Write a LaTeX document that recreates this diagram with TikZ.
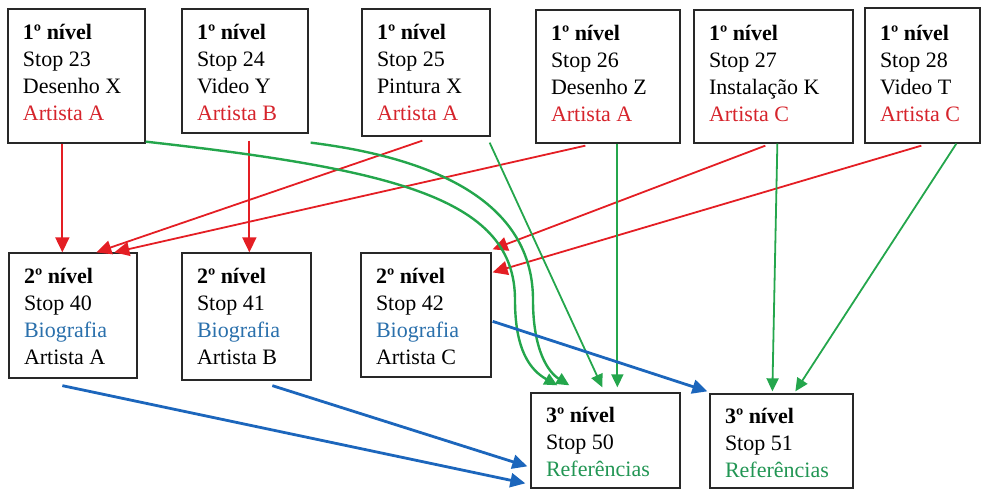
\documentclass[tikz,border=0pt]{standalone}
\usepackage{fontspec}
\setmainfont{Liberation Serif}
\usetikzlibrary{arrows.meta,calc}

\definecolor{boxline}{RGB}{40,40,40}
\definecolor{artist}{RGB}{214,36,44}
\definecolor{bio}{RGB}{42,112,172}
\definecolor{refs}{RGB}{34,150,84}
\definecolor{redarr}{RGB}{228,30,36}
\definecolor{greenarr}{RGB}{36,166,76}
\definecolor{bluearr}{RGB}{28,102,188}

% box contents: width, height, first baseline below the top edge, lines
\newcommand{\stoptext}[4]{%
  \parbox[c][#2pt][t]{#1pt}{\raggedright\rule{0pt}{#3pt}#4}}

\begin{document}
\begin{tikzpicture}[x=1pt,y=-1pt,
  stopbox/.style={draw=boxline, line width=1.3pt, fill=white,
    inner xsep=15pt, inner ysep=0pt,
    font=\fontsize{22}{27.2}\selectfont},
  redlink/.style={draw=redarr, line width=1.8pt, -{Triangle[length=15pt,width=14pt]}},
  greenlink/.style={draw=greenarr, line width=1.8pt, -{Triangle[length=13pt,width=12pt]}},
  curvelink/.style={draw=greenarr, line width=2.4pt, -{Triangle[length=13pt,width=12pt]}},
  bluelink/.style={draw=bluearr, line width=2.8pt, -{Triangle[length=15pt,width=14pt]}}]

\useasboundingbox (0,0) rectangle (983,490);

% first level
\node[stopbox] (s23) at (76.5,76)
  {\stoptext{107}{134}{30}{\textbf{1º nível}\\Stop 23\\Desenho X\\\textcolor{artist}{Artista A}}};
\node[stopbox] (s24) at (245,71)
  {\stoptext{96}{124}{30}{\textbf{1º nível}\\Stop 24\\Video Y\\\textcolor{artist}{Artista B}}};
\node[stopbox] (s25) at (426,72.5)
  {\stoptext{98}{127}{30}{\textbf{1º nível}\\Stop 25\\Pintura X\\\textcolor{artist}{Artista A}}};
\node[stopbox] (s26) at (608,76.5)
  {\stoptext{114}{133}{30}{\textbf{1º nível}\\Stop 26\\Desenho Z\\\textcolor{artist}{Artista A}}};
\node[stopbox] (s27) at (773.5,76.5)
  {\stoptext{129}{133}{30}{\textbf{1º nível}\\Stop 27\\Instalação K\\\textcolor{artist}{Artista C}}};
\node[stopbox] (s28) at (922.5,75.5)
  {\stoptext{85}{135}{32}{\textbf{1º nível}\\Stop 28\\Video T\\\textcolor{artist}{Artista C}}};

% second level
\node[stopbox] (s40) at (73,315.5)
  {\stoptext{98}{125}{30}{\textbf{2º nível}\\Stop 40\\\textcolor{bio}{Biografia}\\Artista A}};
\node[stopbox] (s41) at (246.5,316.5)
  {\stoptext{99}{127}{30}{\textbf{2º nível}\\Stop 41\\\textcolor{bio}{Biografia}\\Artista B}};
\node[stopbox] (s42) at (426,315)
  {\stoptext{100}{124}{30}{\textbf{2º nível}\\Stop 42\\\textcolor{bio}{Biografia}\\Artista C}};

% third level
\node[stopbox] (s50) at (605.5,440.5)
  {\stoptext{119}{95}{29}{\textbf{3º nível}\\Stop 50\\\textcolor{refs}{Referências}}};
\node[stopbox] (s51) at (781.5,441)
  {\stoptext{113}{94}{29}{\textbf{3º nível}\\Stop 51\\\textcolor{refs}{Referências}}};

% links to the artists' biographies
\draw[redlink] ($(s23.south west)+(55,0)$) -- ($(s40.north west)+(54,0)$);
\draw[redlink] ($(s24.south west)+(68,7)$) -- ($(s41.north west)+(68,0)$);
\draw[redlink] ($(s25.south west)+(61,4)$) -- ($(s40.north west)+(88,0)$);
\draw[redlink] ($(s26.south west)+(50,2)$) -- ($(s40.north west)+(106,0)$);
\draw[redlink] ($(s27.south west)+(72,2)$) -- ($(s42.north east)+(1,-3)$);
\draw[redlink] ($(s28.south west)+(57,2)$) -- ($(s42.north east)+(1,20)$);

% links to the references
\draw[curvelink] ($(s23.south east)+(0,-2)$)
  .. controls (400,170) and (515,200) .. (515,300)
  .. controls (515,350) and (530,370) .. ($(s50.north west)+(27,-7)$);
\draw[curvelink] ($(s24.south east)+(2,9)$)
  .. controls (450,160) and (533,210) .. (533,300)
  .. controls (533,350) and (548,372) .. ($(s50.north west)+(39,-7)$);
\draw[greenlink] ($(s25.south east)+(-1,6)$) -- ($(s50.north west)+(72,-5)$);
\draw[greenlink] ($(s26.south west)+(82,0)$) -- ($(s50.north west)+(87,-5)$);
\draw[greenlink] ($(s27.south west)+(84,0)$) -- ($(s51.north west)+(63,-2)$);
\draw[greenlink] ($(s28.south west)+(92,0)$) -- ($(s51.north west)+(86,-2)$);

\draw[bluelink] ($(s42.north east)+(1,69)$) -- ($(s51.north west)+(-2,-2)$);
\draw[bluelink] ($(s40.south west)+(54,7)$) -- ($(s50.north west)+(-5,91)$);
\draw[bluelink] ($(s41.south west)+(91,5)$) -- ($(s50.north west)+(-3,74)$);

\end{tikzpicture}
\end{document}
